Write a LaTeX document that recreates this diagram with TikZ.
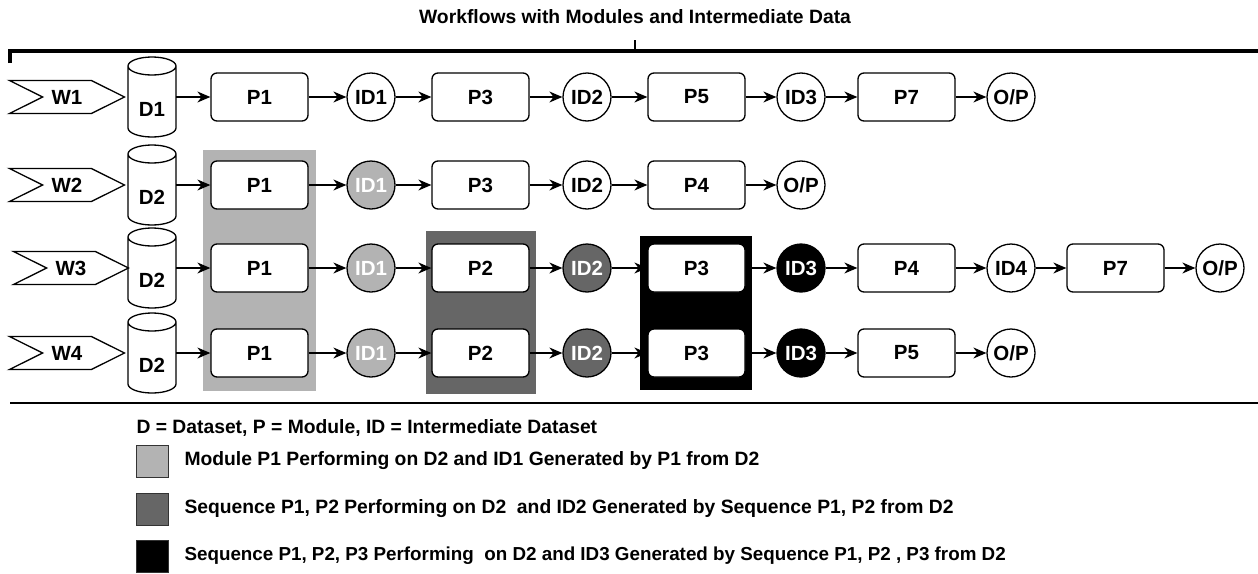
\documentclass[tikz,border=0pt]{standalone}
\usepackage{fontspec}
\setmainfont{Liberation Sans}
\usetikzlibrary{shapes.symbols,arrows.meta}
\definecolor{lightgrp}{HTML}{B3B3B3}
\definecolor{darkgrp}{HTML}{666666}
\tikzset{
 txt/.style={font=\bfseries\fontsize{20.5}{24}\selectfont},
 module/.style={draw, txt, rounded corners=6pt, minimum width=97pt, minimum height=48pt, line width=1.3pt, fill=white},
 inter/.style={draw, txt, circle, minimum size=48pt, inner sep=0pt, line width=1.3pt, fill=white},
 interA/.style={inter, fill=lightgrp, text=white},
 interB/.style={inter, fill=darkgrp, text=white},
 interC/.style={inter, fill=black, text=white},
 data/.style={txt, minimum width=48pt, minimum height=80pt, inner sep=0pt, outer sep=0pt, text height=39pt, text depth=0pt},
 cyl/.style={line width=1.3pt, x radius=24pt, y radius=9pt},
 flow/.style={draw, txt, signal, signal from=west, signal to=east, signal pointer angle=53, minimum width=115pt, minimum height=33pt, inner sep=0pt, line width=1.3pt},
 link/.style={-{Stealth[length=13pt,width=11pt]}, line width=1.3pt},
 legbox/.style={draw=black!80, minimum size=32pt, inner sep=0pt, line width=0.8pt},
 legtxt/.style={anchor=west, font=\bfseries\fontsize{19.3}{23}\selectfont},
}

\begin{document}
\begin{tikzpicture}[x=1pt, y=-1pt]
    \useasboundingbox (0,0) rectangle (1258,573);
    % title and bracket
    \node[legtxt, anchor=center] (title) at (635,17) {Workflows with Modules and Intermediate Data};
    \draw[line width=3.5pt] (10,63) -- (10,51) -- (1258,51);
    \draw[line width=2pt] (635,40) -- (635,51);

    % shaded groups
    \fill[lightgrp] (203,150) rectangle (316,391);
    \fill[darkgrp] (426,231) rectangle (536,394);
    \fill[black] (640,236) rectangle (752,390);

    % workflows and datasets
    \foreach \w/\d/\x/\y in {1/D1/67/97, 2/D2/67/185, 3/D2/71/268, 4/D2/67/353} {
        \node[flow] (w\w) at (\x,\y) {W\w};
        \node[data] (d\w) at (152,\y) {\d};
        \draw[cyl] ([yshift=-9pt]d\w.north west) -- ([yshift=9pt]d\w.south west)
            arc[start angle=180, end angle=360] -- ([yshift=-9pt]d\w.north east)
            arc[start angle=0, end angle=180]
            arc[start angle=180, end angle=360];
    }

    % row 1
    \node[module] (n1-1) at (259.5,97) {P1};
    \node[inter]  (n1-2) at (371,97) {ID1};
    \node[module] (n1-3) at (480.5,97) {P3};
    \node[inter]  (n1-4) at (587,97) {ID2};
    \node[module] (n1-5) at (696.5,97) {P5};
    \node[inter]  (n1-6) at (801,97) {ID3};
    \node[module] (n1-7) at (906.5,97) {P7};
    \node[inter]  (n1-8) at (1011,97) {O/P};
    % row 2
    \node[module] (n2-1) at (259.5,185) {P1};
    \node[interA] (n2-2) at (371,185) {ID1};
    \node[module] (n2-3) at (480.5,185) {P3};
    \node[inter]  (n2-4) at (587,185) {ID2};
    \node[module] (n2-5) at (696.5,185) {P4};
    \node[inter]  (n2-6) at (801,185) {O/P};
    % row 3
    \node[module] (n3-1) at (259.5,268) {P1};
    \node[interA] (n3-2) at (371,268) {ID1};
    \node[module] (n3-3) at (480.5,268) {P2};
    \node[interB] (n3-4) at (587,268) {ID2};
    \node[module] (n3-5) at (696.5,268) {P3};
    \node[interC] (n3-6) at (801,268) {ID3};
    \node[module] (n3-7) at (906.5,268) {P4};
    \node[inter]  (n3-8) at (1011,268) {ID4};
    \node[module] (n3-9) at (1115.5,268) {P7};
    \node[inter]  (n3-10) at (1220,268) {O/P};
    % row 4
    \node[module] (n4-1) at (259.5,353) {P1};
    \node[interA] (n4-2) at (371,353) {ID1};
    \node[module] (n4-3) at (480.5,353) {P2};
    \node[interB] (n4-4) at (587,353) {ID2};
    \node[module] (n4-5) at (696.5,353) {P3};
    \node[interC] (n4-6) at (801,353) {ID3};
    \node[module] (n4-7) at (906.5,353) {P5};
    \node[inter]  (n4-8) at (1011,353) {O/P};

    % arrows
    \foreach \r/\last in {1/8, 2/6, 3/10, 4/8} {
        \draw[link] (d\r) -- (n\r-1);
        \foreach \i in {2,...,\last} {
            \pgfmathtruncatemacro\k{\i-1}
            \draw[link] (n\r-\k) -- (n\r-\i);
        }
    }

    % legend
    \draw[line width=1.5pt] (10,403) -- (1258,403);
    \node[legtxt] (key) at (133,428) {D = Dataset, P = Module, ID = Intermediate Dataset};
    \node[legbox, fill=lightgrp] (l1) at (152,461) {};
    \node[legbox, fill=darkgrp] (l2) at (152,509) {};
    \node[legbox, fill=black] (l3) at (152,556) {};
    \node[legtxt] (t1) at (181,461) {Module P1 Performing on D2 and ID1 Generated by P1 from D2};
    \node[legtxt] (t2) at (181,509) {Sequence P1, P2 Performing on D2\ \ and ID2 Generated by Sequence P1, P2 from D2};
    \node[legtxt, font=\bfseries\fontsize{18.8}{23}\selectfont] (t3) at (181,556) {Sequence P1, P2, P3 Performing\ \ on D2 and ID3 Generated by Sequence P1, P2 , P3 from D2};
\end{tikzpicture}
\end{document}
